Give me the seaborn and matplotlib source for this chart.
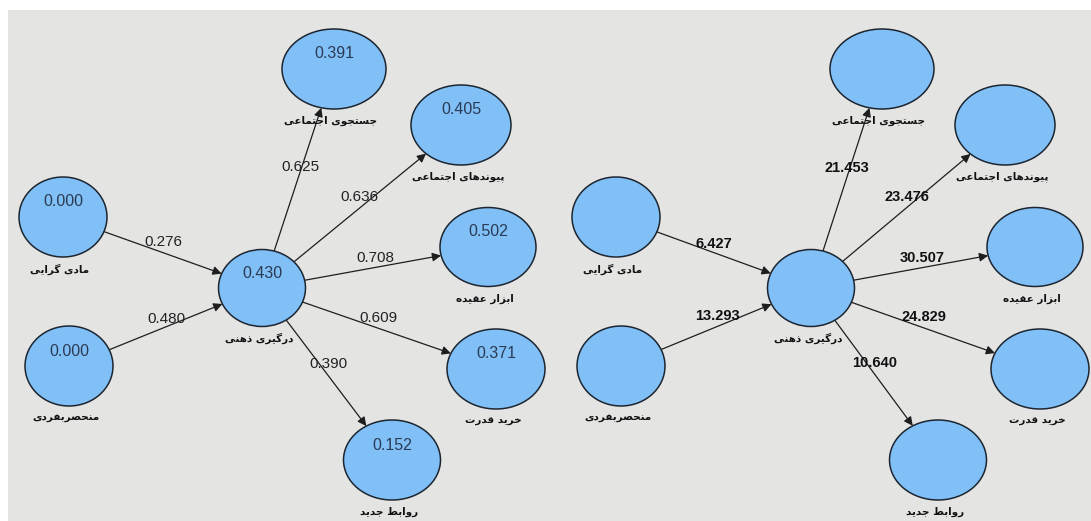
import numpy as np
import matplotlib
matplotlib.use("Agg")
import matplotlib.pyplot as plt
from matplotlib.patches import Ellipse, Rectangle
import seaborn as sns

# constructs (Persian labels)
nodes = ["مادی گرایی", "منحصربفردی", "درگیری ذهنی", "جستجوی اجتماعی",
         "پیوندهای اجتماعی", "ابزار عقیده", "خرید قدرت", "روابط جدید"]
# R-square shown inside the nodes of the left model
r2 = ["0.000", "0.000", "0.430", "0.391", "0.405", "0.502", "0.371", "0.152"]
# paths (source index, target index)
paths = [(0, 2), (1, 2), (2, 3), (2, 4), (2, 5), (2, 6), (2, 7)]
coefs = ["0.276", "0.480", "0.625", "0.636", "0.708", "0.609", "0.390"]
tvals = ["6.427", "13.293", "21.453", "23.476", "30.507", "24.829", "10.640"]

# layout (pixel space of the 1091x521 picture)
left_x = [63, 69, 262, 334, 461, 488, 496, 392]
right_x = [616, 621, 811, 882, 1005, 1035, 1040, 938]
node_y = [217, 366, 288, 69, 125, 247, 369, 460]
node_w = [88, 88, 87, 104, 100, 96, 98, 97]
node_h = [80, 80, 77, 80, 80, 79, 80, 80]
coef_pos = [(163, 242), (166, 319), (300, 167), (359, 197), (375, 258), (378, 318), (328, 364)]
tval_pos = [(714, 244), (717, 316), (847, 168), (907, 197), (922, 258), (924, 317), (875, 363)]

# --- minimal Arabic/Persian shaping (matplotlib has no RTL layout) ---
FORMS = {
    "ا": (0xFE8D, 0xFE8E, None, None), "د": (0xFEA9, 0xFEAA, None, None),
    "ذ": (0xFEAB, 0xFEAC, None, None), "ر": (0xFEAD, 0xFEAE, None, None),
    "ز": (0xFEAF, 0xFEB0, None, None), "و": (0xFEED, 0xFEEE, None, None),
    "ب": (0xFE8F, 0xFE90, 0xFE91, 0xFE92), "ت": (0xFE95, 0xFE96, 0xFE97, 0xFE98),
    "ج": (0xFE9D, 0xFE9E, 0xFE9F, 0xFEA0), "ح": (0xFEA1, 0xFEA2, 0xFEA3, 0xFEA4),
    "خ": (0xFEA5, 0xFEA6, 0xFEA7, 0xFEA8), "س": (0xFEB1, 0xFEB2, 0xFEB3, 0xFEB4),
    "ص": (0xFEB9, 0xFEBA, 0xFEBB, 0xFEBC), "ط": (0xFEC1, 0xFEC2, 0xFEC3, 0xFEC4),
    "ع": (0xFEC9, 0xFECA, 0xFECB, 0xFECC), "ف": (0xFED1, 0xFED2, 0xFED3, 0xFED4),
    "ق": (0xFED5, 0xFED6, 0xFED7, 0xFED8), "م": (0xFEE1, 0xFEE2, 0xFEE3, 0xFEE4),
    "ن": (0xFEE5, 0xFEE6, 0xFEE7, 0xFEE8), "ه": (0xFEE9, 0xFEEA, 0xFEEB, 0xFEEC),
    "ی": (0xFBFC, 0xFBFD, 0xFBFE, 0xFBFF), "پ": (0xFB56, 0xFB57, 0xFB58, 0xFB59),
    "گ": (0xFB92, 0xFB93, 0xFB94, 0xFB95),
}


def shape(text):
    out = []
    for i, ch in enumerate(text):
        if ch not in FORMS:
            out.append(ch)
            continue
        prev = text[i - 1] if i > 0 else ""
        nxt = text[i + 1] if i + 1 < len(text) else ""
        join_prev = prev in FORMS and FORMS[prev][2] is not None
        join_next = nxt in FORMS and FORMS[ch][2] is not None
        iso, fin, ini, med = FORMS[ch]
        if join_prev and join_next:
            code = med
        elif join_prev:
            code = fin
        elif join_next:
            code = ini
        else:
            code = iso
        out.append(chr(code))
    return "".join(out[::-1])


def boundary(xs, i, j):
    # point on ellipse i in the direction of node j
    dx, dy = xs[j] - xs[i], node_y[j] - node_y[i]
    a, b = node_w[i] / 2, node_h[i] / 2
    t = 1 / np.sqrt((dx / a) ** 2 + (dy / b) ** 2)
    return xs[i] + dx * t, node_y[i] + dy * t


sns.set_theme(style="white")
plt.rcParams["font.family"] = ["Liberation Sans", "DejaVu Sans"]

fig = plt.figure(figsize=(10.91, 5.21), dpi=100, facecolor="white")
ax = fig.add_axes([0, 0, 1, 1])
ax.set_xlim(0, 1091)
ax.set_ylim(521, 0)
ax.axis("off")
ax.add_patch(Rectangle((8, 10), 1091, 521, facecolor="#e4e5e3", edgecolor="none", zorder=0))


def draw_model(xs, inner, labels, label_pos, bold):
    for k, (s, t) in enumerate(paths):
        x0, y0 = boundary(xs, s, t)
        x1, y1 = boundary(xs, t, s)
        ax.annotate("", xy=(x1, y1), xytext=(x0, y0),
                    arrowprops=dict(arrowstyle="-|>", mutation_scale=13, lw=0.9,
                                    color="#1e1e1e", shrinkA=0, shrinkB=0), zorder=2)
        ax.text(label_pos[k][0], label_pos[k][1], labels[k], ha="center", va="center",
                fontsize=11 if not bold else 10.5, fontweight="bold" if bold else "normal",
                color="#111111" if bold else "#222222", zorder=4)
    for i, name in enumerate(nodes):
        ax.add_patch(Ellipse((xs[i], node_y[i]), node_w[i], node_h[i], facecolor="#80c0f6",
                             edgecolor="#1c2530", lw=1.1, zorder=3))
        if inner is not None:
            ax.text(xs[i], node_y[i] - 15, inner[i], ha="center", va="center",
                    fontsize=11.5, color="#2b3a55", zorder=4)
        ax.text(xs[i] - 3, node_y[i] + node_h[i] / 2 + 12, shape(name), ha="center", va="center",
                fontsize=7.5, fontweight="bold", family=["DejaVu Sans"], color="#111111", zorder=4)


draw_model(left_x, r2, coefs, coef_pos, bold=False)
draw_model(right_x, None, tvals, tval_pos, bold=True)

fig.savefig("out.png", dpi=100, facecolor="white")
